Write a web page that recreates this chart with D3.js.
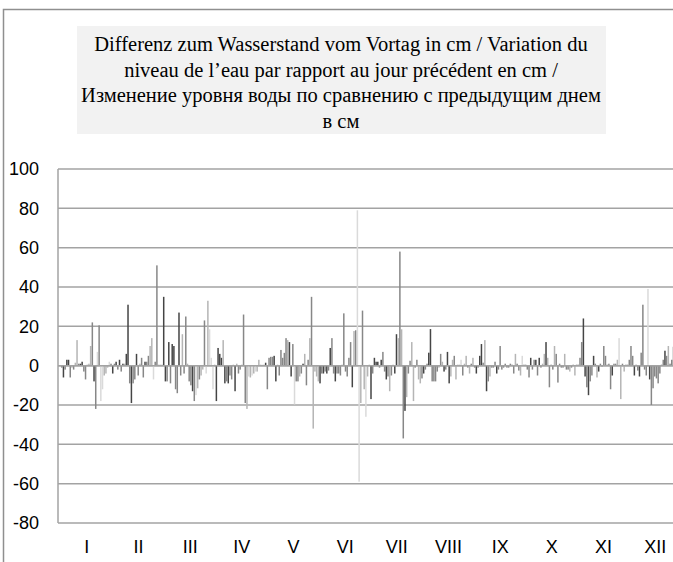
<!DOCTYPE html>
<html>
<head>
<meta charset="utf-8">
<script src="https://cdnjs.cloudflare.com/ajax/libs/d3/7.8.5/d3.min.js"></script>
<style>
  body { margin: 0; background: #fff; }
  svg { display: block; }
</style>
</head>
<body>
<svg id="chart"></svg>
<script>
// daily change of water level (cm), one array per month
var jan = [-1,-6,-2,3,3,-6,-1,-2,1.5,13,1,1,2,-3,-7,0.5,1,10,22,-8,-22,7,20.5,-18,-12,-5,-4,-1,2,1,-4];
var feb = [1,2,-2,3,-3,1,1,6,31,-9,-19,-9,-7,6,-5,1,4,-6,2,2,5,10,14,-7,2,51,0.5,0.5];
var mar = [0.5,35,-8,-8,12,-9,11,10,-12,-14,27,-5,16,-4,25,1,-8,-10,-13,-18,-15,-11.5,-7,-5,-2,23,-4,33,18.5,4,-12];
var apr = [0.5,-18,9,6,4,13,-9,-8,-9,-5,-7,0.5,-13,1,-4,-2,0.5,26,-19,-22,-5.5,-6,-5,-4,-3,-3,3,0.5,0.5,0.5];
var may = [1.5,-12,4,4.5,4.5,5,-8,0.5,-5,8,4,6.5,14,13,12,-5.5,11,-19.7,-8,-8,-5.5,-4,1,6,-10,3,14,35,-32,-3,-5.5];
var jun = [-8,-9,-4,-4,-3,-4,-2.5,9,14,-4,-8,-4,-4,-5,0.5,26.6,-3,-5.5,4,12,-11,17.6,18,79,-59,-19,28,-12,-26,-5.5];
var jul = [0.5,-17,-4,4,2,2,-1,3,7,-3,-7,-5.5,-13,-5,0.5,-4,16,14,58,18.5,-37,-23,-16,-4,2.5,12,-18,-1,3,-7,-9];
var aug = [-6.5,-4,-2,1,6.6,18.6,-8,-8,-8,-3,-1,6,2,-3,-2,7,-9,-5.5,3,5,-7,0.5,0.5,3,-5,1,5,-1,-4,1,4];
var sep = [-1,-4,-1,5,11,1.5,13,-13,-8,-5.5,-1,-1,2,-4,-2,10,-2,-1,1,-1,-1,1,0.5,-4,6,1,-2.5,-5,5,0.5];
var oct = [0.5,-2,-6,4,-2,3,3,-5,4,-1,1,6,12,4,-11,0.5,-2,10,6,-8.6,1,-1,-1,6,-2,-2,-3,-1,0.5,-5,0.5];
var nov = [0.5,4,12,24,-5.5,-11,-15,-8,-5,5,1,-6,-3,1,-0.5,10,5,0.5,1,-12,-5,1,1,3,14,-17,1,-3,0.5,0.5];
var dec = [3,10,5,-5,0.5,-2.5,-5.5,6.6,31,-2,-5,39,-7,-20,-11.5,-5.5,-6.5,-9,-4,0.5,3,7.6,5,10,1,3,9.6,6,-2,4,2];

// bar shade per day: d dark, m medium, l light, v very light
var janShade = "mdmddmlmllmddmmlllmdmvmvvlllvmd";
var febShade = "mdmdmdlddmdmmdmlmmdmmllvmmll";
var marShade = "lddmdmddmmdmlmmlmmdmvlmllmvlvvv";
var aprShade = "lddddldmdmmldlmmlmmlvlvlvlllvl";
var mayShade = "dmmmmddlmmmmmlddmvmmlmdlmmlmlll";
var junShade = "ldmdmdmdmmdmmmlmmmmmdlmvvlmlvl";
var julShade = "ldmdddmdmmdmlmlddlmlmdlmmllmmll";
var augShade = "mdmmddmmmmlmldmddllmlllvmllmlml";
var sepShade = "mdmddmldmlmmmdmmmmmmmmmmlmmlvm";
var octShade = "mmmdmmdmdmlldlmmmlmmmmmlmmlmmlm";
var novShade = "mmmddmdmmdmldmmmmmmmdmmlvlmlmm";
var decShade = "mmmdmmdmmmmvdmmmmmmmmdmlmmmlmmm";

var months = ["I","II","III","IV","V","VI","VII","VIII","IX","X","XI","XII"];
var yTicks = [100,80,60,40,20,0,-20,-40,-60,-80];
var titleLines = [
  "Differenz zum Wasserstand vom Vortag in cm / Variation du",
  "niveau de l\u2019eau par rapport au jour pr\u00e9c\u00e9dent en cm /",
  "\u0418\u0437\u043c\u0435\u043d\u0435\u043d\u0438\u0435 \u0443\u0440\u043e\u0432\u043d\u044f \u0432\u043e\u0434\u044b \u043f\u043e \u0441\u0440\u0430\u0432\u043d\u0435\u043d\u0438\u044e \u0441 \u043f\u0440\u0435\u0434\u044b\u0434\u0443\u0449\u0438\u043c \u0434\u043d\u0435\u043c",
  "\u0432 \u0441\u043c"
];

var values = [].concat(jan, feb, mar, apr, may, jun, jul, aug, sep, oct, nov, dec);
var shades = (janShade + febShade + marShade + aprShade + mayShade + junShade +
  julShade + augShade + sepShade + octShade + novShade + decShade).split("");
var data = values.map(function(v, i) {
  return { day: i, value: v, shade: shades[i] };
});

var shadeColor = { d: "#454545", m: "#878787", l: "#b5b5b5", v: "#dadada" };

var w = 673;
var h = 562;
var margin = { top: 169, bottom: 39, left: 58, right: -8 };

var svg = d3.select("#chart")
  .attr("width", w)
  .attr("height", h);

// outer frame of the chart object (cropped on right and bottom)
svg.append("path")
  .attr("d", "M3.5," + h + "V9.5H" + w)
  .attr("fill", "none")
  .attr("stroke", "#8f8f8f")
  .attr("stroke-width", 1.5);

// title box
var titleBox = svg.append("g");
titleBox.append("rect")
  .attr("x", 77)
  .attr("y", 26)
  .attr("width", 529)
  .attr("height", 108)
  .attr("fill", "#f2f2f2");
titleBox.selectAll("text")
  .data(titleLines)
  .enter()
  .append("text")
  .attr("x", 341)
  .attr("y", function(d, i) { return 51 + i * 25.5; })
  .attr("text-anchor", "middle")
  .attr("font-family", "'Liberation Serif', 'Times New Roman', serif")
  .attr("font-size", 20.5)
  .attr("fill", "#000")
  .text(function(d) { return d; });

var yScale = d3.scaleLinear()
  .domain([-80, 100])
  .range([h - margin.bottom, margin.top]);

var xScale = d3.scaleBand()
  .domain(data.map(function(d) { return d.day; }))
  .range([61, 681])
  .paddingInner(0.12);

var monthScale = d3.scaleBand()
  .domain(months)
  .range([61, 681]);

// gridlines
svg.append("g")
  .selectAll("line")
  .data(yTicks)
  .enter()
  .append("line")
  .attr("x1", margin.left)
  .attr("x2", w)
  .attr("y1", function(d) { return yScale(d); })
  .attr("y2", function(d) { return yScale(d); })
  .attr("stroke", "#a3a3a3")
  .attr("stroke-width", 1.5);

// vertical axis line
svg.append("line")
  .attr("x1", margin.left)
  .attr("x2", margin.left)
  .attr("y1", yScale(100))
  .attr("y2", yScale(-80))
  .attr("stroke", "#a3a3a3")
  .attr("stroke-width", 1.5);

// bars
svg.append("g")
  .selectAll("rect")
  .data(data)
  .enter()
  .append("rect")
  .attr("x", function(d) { return xScale(d.day); })
  .attr("width", xScale.bandwidth())
  .attr("y", function(d) { return yScale(Math.max(0, d.value)); })
  .attr("height", function(d) { return Math.abs(yScale(d.value) - yScale(0)); })
  .attr("fill", function(d) { return shadeColor[d.shade]; });

// zero line drawn over bars
svg.append("line")
  .attr("x1", margin.left)
  .attr("x2", w)
  .attr("y1", yScale(0))
  .attr("y2", yScale(0))
  .attr("stroke", "#a3a3a3")
  .attr("stroke-width", 1.5);

// y labels (plain hyphen for negatives, as in the original)
var yAxis = d3.axisLeft(yScale)
  .tickValues(yTicks)
  .tickFormat(function(d) { return String(d); })
  .tickSize(0)
  .tickPadding(0);
svg.append("g")
  .attr("transform", "translate(39,0)")
  .call(yAxis)
  .call(function(g) { g.select(".domain").remove(); })
  .selectAll("text")
  .attr("font-family", "'Liberation Sans', Arial, sans-serif")
  .attr("font-size", 18)
  .attr("fill", "#000");

// month labels
var xAxis = d3.axisBottom(monthScale).tickSize(0).tickPadding(0);
svg.append("g")
  .attr("transform", "translate(0,540)")
  .call(xAxis)
  .call(function(g) { g.select(".domain").remove(); })
  .selectAll("text")
  .attr("font-family", "'Liberation Sans', Arial, sans-serif")
  .attr("font-size", 18)
  .attr("fill", "#000");
</script>
</body>
</html>
